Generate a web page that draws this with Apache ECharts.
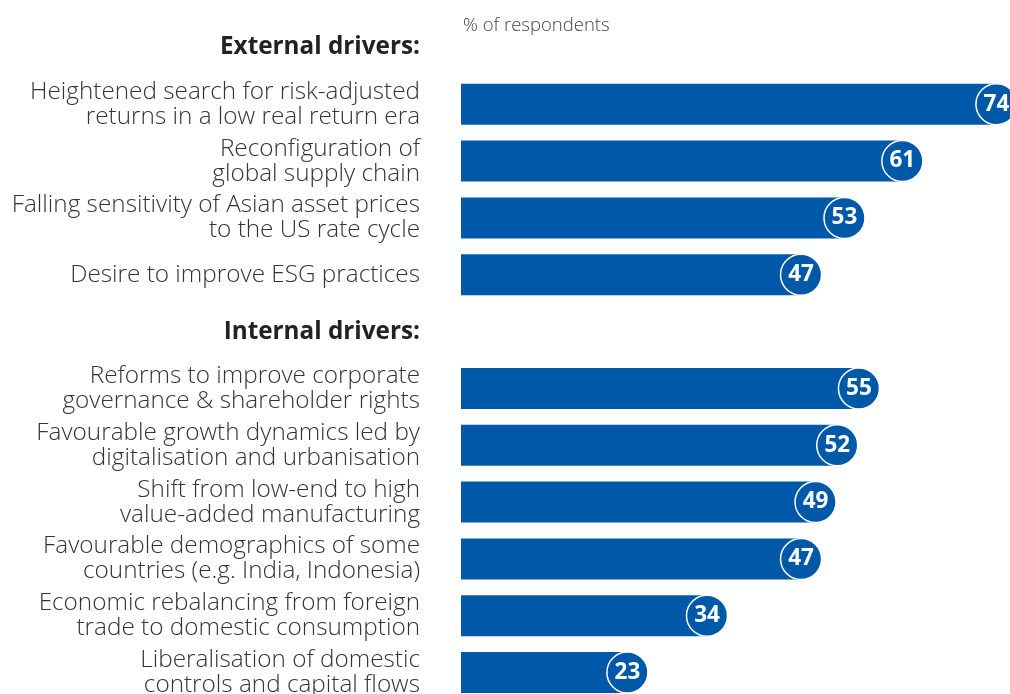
<!DOCTYPE html>
<html>
<head>
<meta charset="utf-8">
<script src="https://cdn.jsdelivr.net/npm/echarts@6/dist/echarts.min.js"></script>
<style>
  html, body { margin: 0; padding: 0; background: #fff; overflow: hidden; }
  #chart { width: 1010px; height: 702px; }
</style>
</head>
<body>
<div id="chart"></div>
<script>
// group headers and the drivers under each
const externalHeader = 'External drivers:'
const externalDrivers = [
    'Heightened search for risk-adjusted\nreturns in a low real return era',
    'Reconfiguration of\nglobal supply chain',
    'Falling sensitivity of Asian asset prices\nto the US rate cycle',
    'Desire to improve ESG practices'
]
const externalValues = [74, 61, 53, 47]

const internalHeader = 'Internal drivers:'
const internalDrivers = [
    'Reforms to improve corporate\ngovernance & shareholder rights',
    'Favourable growth dynamics led by\ndigitalisation and urbanisation',
    'Shift from low-end to high\nvalue-added manufacturing',
    'Favourable demographics of some\ncountries (e.g. India, Indonesia)',
    'Economic rebalancing from foreign\ntrade to domestic consumption',
    'Liberalisation of domestic\ncontrols and capital flows'
]
const internalValues = [55, 52, 49, 47, 34, 23]

const headers = [externalHeader, internalHeader]
const categories = [externalHeader, ...externalDrivers, internalHeader, ...internalDrivers]
const values = [null, ...externalValues, null, ...internalValues]

const barColor = '#0058a8'

const myChart = echarts.init(document.getElementById('chart'))

const points = []
values.forEach((v, i) => {
    if (v != null) points.push([v, i])
})

myChart.setOption({
    animation: false,
    title: {
        text: '% of respondents',
        left: 458,
        top: 11,
        textStyle: { fontFamily: 'Open Sans', fontSize: 18.5, fontWeight: 300, color: '#444' }
    },
    grid: { left: 461, right: 2, top: 19, bottom: 1, containLabel: false },
    xAxis: { type: 'value', min: 0, max: 75.6, show: false },
    yAxis: {
        type: 'category',
        data: categories,
        inverse: true,
        axisLine: { show: false },
        axisTick: { show: false },
        axisLabel: {
            margin: 41,
            align: 'right',
            formatter: (val) => {
                const key = headers.includes(val) ? 'h' : 'n'
                return val.split('\n').map(l => '{' + key + '|' + l + '}').join('\n')
            },
            rich: {
                n: { fontFamily: 'Open Sans', fontSize: 24.3, fontWeight: 300, color: '#333', lineHeight: 25, align: 'right' },
                h: { fontFamily: 'Open Sans', fontSize: 24.3, fontWeight: 'bold', color: '#222', lineHeight: 25, align: 'right' }
            }
        }
    },
    series: [
        {
            type: 'bar',
            data: values,
            barWidth: 41,
            itemStyle: { color: barColor },
            silent: true
        },
        {
            type: 'scatter',
            data: points,
            symbol: 'circle',
            symbolSize: 41,
            itemStyle: { color: barColor, opacity: 1, borderColor: '#fff', borderWidth: 1.5 },
            label: {
                show: true,
                position: 'inside',
                formatter: (p) => p.value[0],
                fontFamily: 'Open Sans',
                fontWeight: 'bold',
                fontSize: 22.5,
                color: '#fff'
            },
            z: 3
        }
    ]
})
</script>
</body>
</html>
